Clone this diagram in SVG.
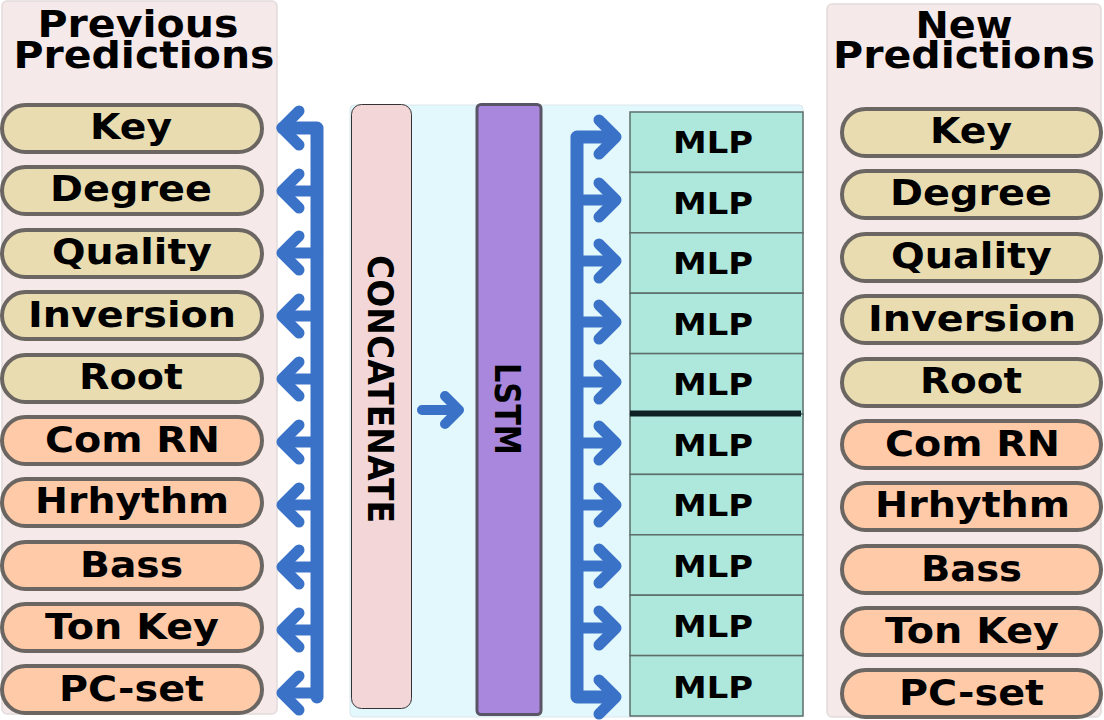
<svg xmlns="http://www.w3.org/2000/svg" width="1104" height="720" viewBox="0 0 1104 720">
<style>
.panel{fill:#f5e9ea;stroke:#e2dcdc;stroke-width:1.5}
.title{font-family:"DejaVu Sans",sans-serif;font-weight:bold;font-size:38px;text-anchor:middle;fill:#000}
.pill{stroke:#6b6661;stroke-width:4}
.y{fill:#e8dcb0}
.o{fill:#fecaa8}
.pt{font-family:"DejaVu Sans",sans-serif;font-weight:bold;font-size:35px;text-anchor:middle;fill:#000}
.mlp{fill:#aee8dc;stroke:#5d6d6a;stroke-width:1.5}
.mt{font-family:"DejaVu Sans",sans-serif;font-weight:bold;font-size:31px;text-anchor:middle;fill:#000}
.vt{font-family:"DejaVu Sans",sans-serif;font-weight:bold;font-size:36px;text-anchor:middle;fill:#000}
.conn{fill:none;stroke:#3a72c8;stroke-linecap:round;stroke-linejoin:round}
</style>
<rect class="panel" x="2" y="1" width="275" height="713" rx="5"/>
<rect class="panel" x="827" y="4" width="274" height="713" rx="5"/>
<rect x="350" y="105" width="453" height="612" rx="4" fill="#e3f8fd" stroke="#dde6ea" stroke-width="1"/>
<text class="title" x="138" y="37" textLength="201" lengthAdjust="spacingAndGlyphs">Previous</text>
<text class="title" x="144" y="68" textLength="261" lengthAdjust="spacingAndGlyphs">Predictions</text>
<text class="title" x="964" y="38" textLength="97" lengthAdjust="spacingAndGlyphs">New</text>
<text class="title" x="964" y="68" textLength="262" lengthAdjust="spacingAndGlyphs">Predictions</text>

<g id="prev-key"><rect class="pill y" x="2" y="105" width="260" height="47" rx="23.5"/><text class="pt" x="131" y="139" textLength="82" lengthAdjust="spacingAndGlyphs">Key</text></g>
<g id="prev-degree"><rect class="pill y" x="2" y="167" width="260" height="47" rx="23.5"/><text class="pt" x="131" y="201" textLength="162" lengthAdjust="spacingAndGlyphs">Degree</text></g>
<g id="prev-quality"><rect class="pill y" x="2" y="230" width="260" height="47" rx="23.5"/><text class="pt" x="132" y="264" textLength="160" lengthAdjust="spacingAndGlyphs">Quality</text></g>
<g id="prev-inversion"><rect class="pill y" x="2" y="292" width="260" height="47" rx="23.5"/><text class="pt" x="132" y="327" textLength="208" lengthAdjust="spacingAndGlyphs">Inversion</text></g>
<g id="prev-root"><rect class="pill y" x="2" y="355" width="260" height="47" rx="23.5"/><text class="pt" x="131" y="389" textLength="104" lengthAdjust="spacingAndGlyphs">Root</text></g>
<g id="prev-comrn"><rect class="pill o" x="2" y="417" width="260" height="47" rx="23.5"/><text class="pt" x="132.5" y="452" textLength="175" lengthAdjust="spacingAndGlyphs">Com RN</text></g>
<g id="prev-hrhythm"><rect class="pill o" x="2" y="479" width="260" height="47" rx="23.5"/><text class="pt" x="132" y="513" textLength="194" lengthAdjust="spacingAndGlyphs">Hrhythm</text></g>
<g id="prev-bass"><rect class="pill o" x="2" y="542" width="260" height="47" rx="23.5"/><text class="pt" x="131.5" y="577" textLength="103" lengthAdjust="spacingAndGlyphs">Bass</text></g>
<g id="prev-tonkey"><rect class="pill o" x="2" y="604" width="260" height="47" rx="23.5"/><text class="pt" x="132" y="639" textLength="174" lengthAdjust="spacingAndGlyphs">Ton Key</text></g>
<g id="prev-pcset"><rect class="pill o" x="2" y="666" width="260" height="47" rx="23.5"/><text class="pt" x="131.5" y="701" textLength="145" lengthAdjust="spacingAndGlyphs">PC-set</text></g>

<g id="new-key"><rect class="pill y" x="842" y="109" width="259" height="47" rx="23.5"/><text class="pt" x="971" y="143" textLength="82" lengthAdjust="spacingAndGlyphs">Key</text></g>
<g id="new-degree"><rect class="pill y" x="842" y="171" width="259" height="47" rx="23.5"/><text class="pt" x="971" y="205" textLength="162" lengthAdjust="spacingAndGlyphs">Degree</text></g>
<g id="new-quality"><rect class="pill y" x="842" y="234" width="259" height="47" rx="23.5"/><text class="pt" x="971.5" y="268" textLength="161" lengthAdjust="spacingAndGlyphs">Quality</text></g>
<g id="new-inversion"><rect class="pill y" x="842" y="296" width="259" height="47" rx="23.5"/><text class="pt" x="972" y="331" textLength="208" lengthAdjust="spacingAndGlyphs">Inversion</text></g>
<g id="new-root"><rect class="pill y" x="842" y="359" width="259" height="47" rx="23.5"/><text class="pt" x="971" y="393" textLength="102" lengthAdjust="spacingAndGlyphs">Root</text></g>
<g id="new-comrn"><rect class="pill o" x="842" y="421" width="259" height="47" rx="23.5"/><text class="pt" x="972.5" y="456" textLength="175" lengthAdjust="spacingAndGlyphs">Com RN</text></g>
<g id="new-hrhythm"><rect class="pill o" x="842" y="483" width="259" height="47" rx="23.5"/><text class="pt" x="972.5" y="517" textLength="195" lengthAdjust="spacingAndGlyphs">Hrhythm</text></g>
<g id="new-bass"><rect class="pill o" x="842" y="546" width="259" height="47" rx="23.5"/><text class="pt" x="971.5" y="581" textLength="101" lengthAdjust="spacingAndGlyphs">Bass</text></g>
<g id="new-tonkey"><rect class="pill o" x="842" y="608" width="259" height="47" rx="23.5"/><text class="pt" x="972" y="643" textLength="174" lengthAdjust="spacingAndGlyphs">Ton Key</text></g>
<g id="new-pcset"><rect class="pill o" x="842" y="670" width="259" height="47" rx="23.5"/><text class="pt" x="971.5" y="705" textLength="145" lengthAdjust="spacingAndGlyphs">PC-set</text></g>

<g id="concatenate"><rect x="351.5" y="104.5" width="60" height="604" rx="10" fill="#f2d6d8" stroke="#333" stroke-width="1"/><text class="vt" transform="translate(368,389) rotate(90)" x="0" y="0" textLength="268" lengthAdjust="spacingAndGlyphs">CONCATENATE</text></g>
<g id="lstm"><rect x="477" y="104.5" width="64" height="610" rx="4" fill="#a987dc" stroke="#5a5566" stroke-width="3"/><text class="vt" transform="translate(495,409) rotate(90)" x="0" y="0" textLength="92" lengthAdjust="spacingAndGlyphs">LSTM</text></g>

<g id="mlps">
<g id="mlp1"><rect class="mlp" x="630" y="112" width="173" height="60.4"/><text class="mt" x="713" y="153" textLength="80" lengthAdjust="spacingAndGlyphs">MLP</text></g>
<g id="mlp2"><rect class="mlp" x="630" y="172.4" width="173" height="60.4"/><text class="mt" x="713" y="213.5" textLength="80" lengthAdjust="spacingAndGlyphs">MLP</text></g>
<g id="mlp3"><rect class="mlp" x="630" y="232.8" width="173" height="60.4"/><text class="mt" x="713" y="274" textLength="80" lengthAdjust="spacingAndGlyphs">MLP</text></g>
<g id="mlp4"><rect class="mlp" x="630" y="293.2" width="173" height="60.4"/><text class="mt" x="713" y="334.5" textLength="80" lengthAdjust="spacingAndGlyphs">MLP</text></g>
<g id="mlp5"><rect class="mlp" x="630" y="353.6" width="173" height="60.4"/><text class="mt" x="713" y="395" textLength="80" lengthAdjust="spacingAndGlyphs">MLP</text></g>
<g id="mlp6"><rect class="mlp" x="630" y="414" width="173" height="60.4"/><text class="mt" x="713" y="455.5" textLength="80" lengthAdjust="spacingAndGlyphs">MLP</text></g>
<g id="mlp7"><rect class="mlp" x="630" y="474.4" width="173" height="60.4"/><text class="mt" x="713" y="516" textLength="80" lengthAdjust="spacingAndGlyphs">MLP</text></g>
<g id="mlp8"><rect class="mlp" x="630" y="534.8" width="173" height="60.4"/><text class="mt" x="713" y="576.5" textLength="80" lengthAdjust="spacingAndGlyphs">MLP</text></g>
<g id="mlp9"><rect class="mlp" x="630" y="595.2" width="173" height="60.4"/><text class="mt" x="713" y="637" textLength="80" lengthAdjust="spacingAndGlyphs">MLP</text></g>
<g id="mlp10"><rect class="mlp" x="630" y="655.6" width="173" height="60.4"/><text class="mt" x="713" y="697.5" textLength="80" lengthAdjust="spacingAndGlyphs">MLP</text></g>
<line x1="630" y1="413.5" x2="801" y2="413.5" stroke="#0e2226" stroke-width="6"/>
</g>

<g id="connectors">
<path class="conn" stroke-width="13" d="M283,128 H317 V697"/>
<path class="conn" stroke-width="11" d="M317,191H283M317,253H283M317,316H283M317,379H283M317,442H283M317,505H283M317,567H283M317,630H283M317,693H283"/>
<path class="conn" stroke-width="11" d="M299,111L282,128L299,145M299,174L282,191L299,208M299,236L282,253L299,270M299,299L282,316L299,333M299,362L282,379L299,396M299,425L282,442L299,459M299,488L282,505L299,522M299,550L282,567L299,584M299,613L282,630L299,647M299,676L282,693L299,710"/>
<path class="conn" stroke-width="13" d="M614,137 H577 V697 H614"/>
<path class="conn" stroke-width="11" d="M577,200H614M577,261H614M577,322H614M577,382H614M577,443H614M577,505H614M577,566H614M577,628H614"/>
<path class="conn" stroke-width="11" d="M599,120L616,137L599,154M599,183L616,200L599,217M599,244L616,261L599,278M599,305L616,322L599,339M599,365L616,382L599,399M599,426L616,443L599,460M599,488L616,505L599,522M599,549L616,566L599,583M599,611L616,628L599,645M599,680L616,697L599,714"/>
<path class="conn" stroke-width="10" d="M422,410H458M445,396L459,410L445,424"/>
</g>
</svg>
